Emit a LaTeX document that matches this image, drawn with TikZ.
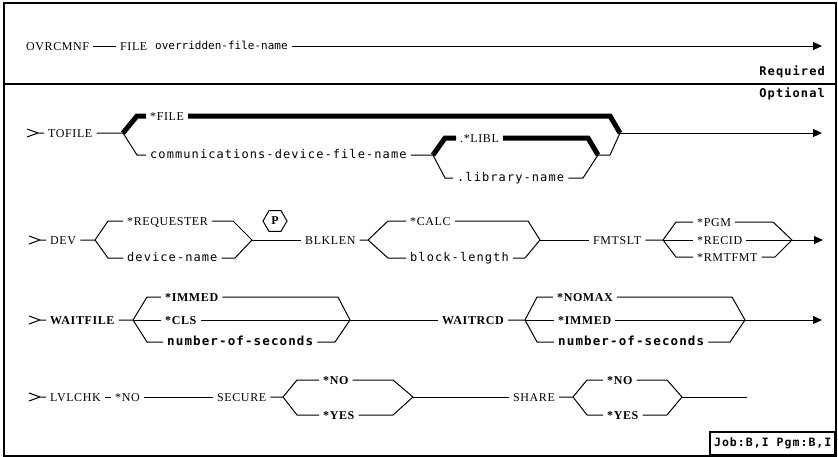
\documentclass[tikz,border=0pt]{standalone}
\usepackage{fontspec}
\usepackage{tikz}
\usetikzlibrary{shapes.geometric, arrows.meta, positioning}
\setmainfont{Liberation Serif}
\newfontfamily\railserif[LetterSpace=5]{Liberation Serif}
\newfontfamily\railmono[LetterSpace=9]{DejaVu Sans Mono}
\newfontfamily\railplain{DejaVu Sans Mono}
\tikzset{
	lbl/.style   ={inner xsep=4pt, inner ysep=0pt, anchor=west, text height=8pt, text depth=0pt},
	kw/.style    ={lbl, font=\railserif\fontsize{12}{14}\selectfont},
	kwb/.style   ={lbl, font=\railserif\bfseries\fontsize{12}{14}\selectfont},
	var/.style   ={lbl, text height=6.5pt, font=\railmono\fontsize{12}{14}\selectfont},
	varb/.style  ={lbl, text height=7pt, font=\railmono\bfseries\fontsize{12.5}{15}\selectfont},
	tag/.style   ={inner xsep=4pt, inner ysep=0pt, anchor=east, font=\railmono\bfseries\fontsize{12}{14}\selectfont},
	hexa/.style  ={regular polygon, regular polygon sides=6, draw, line width=1pt, minimum size=24pt, inner sep=0pt, font=\railserif\bfseries\fontsize{12}{14}\selectfont},
	% rail styles
	rail/.style  ={line width=1pt},
	heavy/.style ={line width=5pt},
	arr/.style   ={-{Triangle[length=9pt, width=8pt]}},
	frame/.style ={line width=1.3pt},
	jobbox/.style={draw, line width=1.6pt, anchor=south east, minimum width=125pt, minimum height=23pt, inner sep=0pt, font=\railmono\bfseries\fontsize{11.5}{14}\selectfont},
}
\newcommand\railin[1]{\draw[rail] (#1.west) ++(-17,-4) -- ++(11,4) -- ++(-11,4) ++(11,-4) -- (#1.west);}

\begin{document}
\begin{tikzpicture}[x=1pt, y=-1pt]
	\useasboundingbox (0,0) rectangle (838,456);
	\draw[frame] (4,3) rectangle (836,456);
	\draw[frame] (4,84) -- (836,84);

	% required part
	\node[kw] (ovr) at (22,46) {OVRCMNF};
	\node[kw] (fileKw) at (116,46) {FILE};
	\node[lbl, font=\railplain\fontsize{11}{13}\selectfont, text height=6pt] (ofn) at (151,46) {overridden-file-name};
	\coordinate (r0end) at (822,46);
	\draw[rail] (ovr.east) -- (fileKw.west);
	\draw[rail, arr] (ofn.east) -- (r0end);
	\node[tag] (req) at (829,72) {Required};
	\node[tag] (opt) at (829,94) {Optional};

	% TOFILE
	\node[kw] (tofile) at (44,133) {TOFILE};
	\railin{tofile}
	\coordinate (b1) at (123,133);
	\node[kw] (filestar) at (146,116) {*FILE};
	\node[var] (commname) at (146,155) {communications-device-file-name};
	\coordinate (j1) at (620,133);
	\coordinate (r1end) at (822,133);
	\draw[rail] (tofile.east) -- (b1) -- ++(14,22) -- (commname.west);
	\draw[heavy] (b1) -- ++(14,-17) -- (filestar.west);
	\draw[heavy] (j1) -- ++(-10,-17) -- (filestar.east);
	\draw[rail, arr] (j1) -- (r1end);
	\coordinate (b2) at (433,155);
	\node[kw] (libl) at (456,138) {.*LIBL};
	\node[var] (libname) at (453,178) {.library-name};
	\coordinate (j2) at (598,155);
	\draw[rail] (commname.east) -- (b2) -- ++(12,23) -- (libname.west);
	\draw[heavy] (b2) -- ++(12,-17) -- (libl.west);
	\draw[heavy] (j2) -- ++(-10,-17) -- (libl.east);
	\draw[rail] (j2) -- ++(-15,23) -- (libname.east);
	\draw[rail] (j2) -- ++(12,0) -- (j1);

	% DEV, BLKLEN, FMTSLT
	\node[kw] (dev) at (46,240) {DEV};
	\railin{dev}
	\coordinate (b3) at (95,240);
	\node[kw] (requester) at (123,221) {*REQUESTER};
	\node[var] (devname) at (123,258) {device-name};
	\coordinate (j3) at (252,240);
	\node[hexa] (pmark) at (275,221) {P};
	\draw[rail] (dev.east) -- (b3) -- ++(13,-19) -- (requester.west);
	\draw[rail] (b3) -- ++(13,18) -- (devname.west);
	\draw[rail] (j3) -- ++(-19,-19) -- (requester.east);
	\draw[rail] (j3) -- ++(-17,18) -- (devname.east);
	\node[kw] (blklen) at (301,240) {BLKLEN};
	\draw[rail] (j3) -- (blklen.west);
	\coordinate (b4) at (368,240);
	\node[kw] (calc) at (406,221) {*CALC};
	\node[var] (blklength) at (406,258) {block-length};
	\coordinate (j4) at (540,240);
	\draw[rail] (blklen.east) -- (b4) -- ++(20,-19) -- (calc.west);
	\draw[rail] (b4) -- ++(20,18) -- (blklength.west);
	\draw[rail] (j4) -- ++(-12,-19) -- (calc.east);
	\draw[rail] (j4) -- ++(-15,18) -- (blklength.east);
	\node[kw] (fmtslt) at (589,240) {FMTSLT};
	\draw[rail] (j4) -- (fmtslt.west);
	\coordinate (b5) at (663,240);
	\node[kw] (pgm) at (693,222) {*PGM};
	\node[kw] (recid) at (693,240) {*RECID};
	\node[kw] (rmtfmt) at (693,257) {*RMTFMT};
	\coordinate (j5) at (792,240);
	\coordinate (r2end) at (823,240);
	\draw[rail] (fmtslt.east) -- (b5) -- ++(13,-18) -- (pgm.west);
	\draw[rail] (b5) -- (recid.west);
	\draw[rail] (b5) -- ++(13,17) -- (rmtfmt.west);
	\draw[rail] (j5) -- ++(-19,-18) -- (pgm.east);
	\draw[rail] (j5) -- ++(-17,17) -- (rmtfmt.east);
	\draw[rail] (recid.east) -- (j5);
	\draw[rail, arr] (j5) -- (r2end);

	% WAITFILE, WAITRCD
	\node[kwb] (waitfile) at (46,320) {WAITFILE};
	\railin{waitfile}
	\coordinate (b6) at (133,320);
	\node[kwb] (immed) at (161,297) {*IMMED};
	\node[kwb] (cls) at (161,320) {*CLS};
	\node[varb] (nsec) at (163,342) {number-of-seconds};
	\coordinate (j6) at (350,320);
	\draw[rail] (waitfile.east) -- (b6) -- ++(14,-23) -- (immed.west);
	\draw[rail] (b6) -- (cls.west);
	\draw[rail] (b6) -- ++(14,22) -- (nsec.west);
	\draw[rail] (j6) -- ++(-12,-23) -- (immed.east);
	\draw[rail] (cls.east) -- (j6);
	\draw[rail] (j6) -- ++(-15,22) -- (nsec.east);
	\node[kwb] (waitrcd) at (438,320) {WAITRCD};
	\draw[rail] (j6) -- (waitrcd.west);
	\coordinate (b7) at (525,320);
	\node[kwb] (nomax) at (553,297) {*NOMAX};
	\node[kwb] (immedb) at (554,320) {*IMMED};
	\node[varb] (nsecb) at (554,342) {number-of-seconds};
	\coordinate (j7) at (745,320);
	\coordinate (r3end) at (822,320);
	\draw[rail] (waitrcd.east) -- (b7) -- ++(12,-23) -- (nomax.west);
	\draw[rail] (b7) -- (immedb.west);
	\draw[rail] (b7) -- ++(12,22) -- (nsecb.west);
	\draw[rail] (j7) -- ++(-13,-23) -- (nomax.east);
	\draw[rail] (immedb.east) -- (j7);
	\draw[rail] (j7) -- ++(-15,22) -- (nsecb.east);
	\draw[rail, arr] (j7) -- (r3end);

	% LVLCHK, SECURE, SHARE
	\node[kw] (lvlchk) at (46,397) {LVLCHK};
	\railin{lvlchk}
	\node[kw] (lvlno) at (111,397) {*NO};
	\node[kw] (secure) at (213,397) {SECURE};
	\draw[rail] (lvlchk.east) -- (lvlno.west);
	\draw[rail] (lvlno.east) -- (secure.west);
	\coordinate (b8) at (283,397);
	\node[kwb] (secno) at (319,380) {*NO};
	\node[kwb] (secyes) at (319,415) {*YES};
	\coordinate (j8) at (413,397);
	\draw[rail] (secure.east) -- (b8) -- ++(14,-17) -- (secno.west);
	\draw[rail] (b8) -- ++(14,18) -- (secyes.west);
	\draw[rail] (j8) -- ++(-20,-17) -- (secno.east);
	\draw[rail] (j8) -- ++(-20,18) -- (secyes.east);
	\node[kw] (share) at (509,397) {SHARE};
	\draw[rail] (j8) -- (share.west);
	\coordinate (b9) at (573,397);
	\node[kwb] (shno) at (603,380) {*NO};
	\node[kwb] (shyes) at (603,415) {*YES};
	\coordinate (j9) at (682,397);
	\coordinate (r4end) at (747,397);
	\draw[rail] (share.east) -- (b9) -- ++(14,-17) -- (shno.west);
	\draw[rail] (b9) -- ++(14,18) -- (shyes.west);
	\draw[rail] (j9) -- ++(-15,-17) -- (shno.east);
	\draw[rail] (j9) -- ++(-15,18) -- (shyes.east);
	\draw[rail] (j9) -- (r4end);

	\node[jobbox] (jobinfo) at (836,456) {Job:B,I Pgm:B,I};
\end{tikzpicture}
\end{document}
